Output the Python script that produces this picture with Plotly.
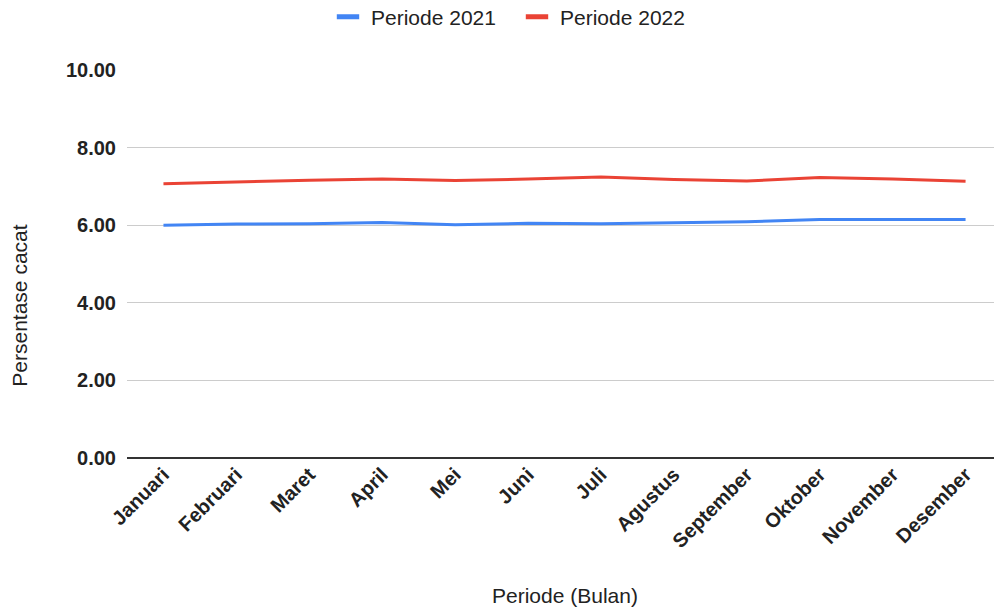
import plotly.graph_objects as go

bulan = ["Januari", "Februari", "Maret", "April", "Mei", "Juni", "Juli",
         "Agustus", "September", "Oktober", "November", "Desember"]
periode_2021 = [6.00, 6.03, 6.04, 6.07, 6.01, 6.05, 6.04, 6.07, 6.09, 6.15, 6.15, 6.15]
periode_2022 = [7.07, 7.12, 7.16, 7.19, 7.15, 7.19, 7.24, 7.18, 7.14, 7.23, 7.19, 7.13]
series_names = ["Periode 2021", "Periode 2022"]
series_colors = ["#4285F4", "#EA4335"]
y_ticks = [0, 2, 4, 6, 8, 10]

FONT = "Liberation Sans, Arial, sans-serif"
TXT = "#222222"

fig = go.Figure()
for name, vals, col in zip(series_names, [periode_2021, periode_2022], series_colors):
    fig.add_trace(go.Scatter(x=bulan, y=vals, mode="lines", name=name,
                             line=dict(color=col, width=3), showlegend=False))
# legend swatches (short thick bars like the original)
for name, col in zip(series_names, series_colors):
    fig.add_trace(go.Scatter(x=[None], y=[None], mode="markers", name=name,
                             marker=dict(symbol="line-ew", size=16,
                                         line=dict(color=col, width=6)),
                             showlegend=True))

fig.update_layout(
    width=994, height=607,
    paper_bgcolor="white", plot_bgcolor="white",
    margin=dict(l=127, r=0, t=70, b=149, autoexpand=False),
    font=dict(family=FONT, color=TXT),
    legend=dict(orientation="h", x=0.5171, xanchor="center", xref="container",
                y=1 - 17 / 607, yanchor="middle", yref="container",
                font=dict(size=21, color=TXT),
                itemsizing="trace", itemwidth=36,
                entrywidth=138, entrywidthmode="pixels"),
    showlegend=True,
    annotations=[
        dict(text="Periode (Bulan)", xref="paper", yref="paper", x=0.505, y=-0.354,
             xanchor="center", yanchor="middle", showarrow=False,
             font=dict(size=21, color=TXT, family=FONT)),
        dict(text="Persentase cacat", xref="paper", yref="paper", x=-0.1234, y=0.3926,
             xanchor="center", yanchor="middle", textangle=-90, showarrow=False,
             font=dict(size=21, color=TXT, family=FONT)),
    ],
)

fig.update_xaxes(
    type="category", range=[-0.5, 11.39], tickangle=-45,
    tickfont=dict(size=20, family=FONT, color=TXT, weight="bold"),
    showgrid=False, showline=False, ticks="", automargin=False,
)
fig.update_yaxes(
    range=[0, 10], tickvals=y_ticks, ticktext=[f"{v:.2f}" for v in y_ticks],
    tickfont=dict(size=20, family=FONT, color=TXT, weight="bold"),
    showgrid=True, gridcolor="#cccccc", gridwidth=1,
    zeroline=True, zerolinecolor="#333333", zerolinewidth=1.5,
    showline=False, ticks="", ticklabelstandoff=10, automargin=False,
)

fig.write_html("out.html")
